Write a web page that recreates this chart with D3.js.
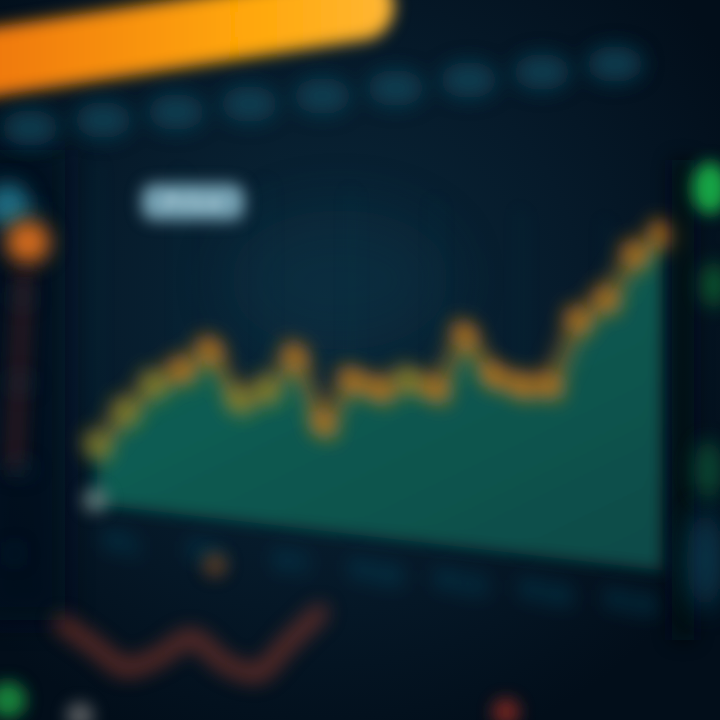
<!DOCTYPE html>
<html><head><meta charset="utf-8">
<script src="https://cdn.jsdelivr.net/npm/d3@7/dist/d3.min.js"></script>
<style>html,body{margin:0;padding:0;background:#051624;}svg{display:block;}</style>
</head><body>
<svg id="c" width="720" height="720"></svg>
<script>
// ---- data ----
const periods = d3.range(21).map(i => "P" + (i + 1));
const mainValues = [17, 28, 37, 42, 49, 35, 39, 50, 31, 45, 43, 47, 45, 62, 51, 49, 50, 70, 77, 91, 98];
const xTickLabels = ["P1", "P4", "P7", "P10", "P13", "P16", "P19"];
const topSeries = [62, 90];               // out-of-focus foreground line (orange band)
const topDots = [1, 2, 3, 4, 5, 6, 7, 8, 9];
const lowSeries = [44, 28, 12, 20, 34, 16, 8, 30, 52];  // red line lower left
const yTicks = [0, 25, 50, 75, 100];

const svg = d3.select("#c");
const W = 720, H = 720;
const defs = svg.append("defs");
const blur = (id, s) => defs.append("filter").attr("id", id).attr("filterUnits", "userSpaceOnUse")
  .attr("x", -150).attr("y", -150).attr("width", 1020).attr("height", 1020)
  .append("feGaussianBlur").attr("stdDeviation", s);
blur("b5", 5); blur("b8", 8); blur("b10", 10); blur("b14", 14); blur("b28", 28);

const bg = defs.append("radialGradient").attr("id", "bg").attr("cx", "45%").attr("cy", "42%").attr("r", "65%");
bg.append("stop").attr("offset", "0%").attr("stop-color", "#0a283a");
bg.append("stop").attr("offset", "55%").attr("stop-color", "#061a2a");
bg.append("stop").attr("offset", "100%").attr("stop-color", "#020e1a");
svg.append("rect").attr("width", W).attr("height", H).attr("fill", "url(#bg)");

const ag = defs.append("linearGradient").attr("id", "ag").attr("x1", "0").attr("y1", "0").attr("x2", "1").attr("y2", "1");
ag.append("stop").attr("offset", "0%").attr("stop-color", "#176448");
ag.append("stop").attr("offset", "45%").attr("stop-color", "#0a5c52");
ag.append("stop").attr("offset", "100%").attr("stop-color", "#094a48");

const og = defs.append("linearGradient").attr("id", "og").attr("gradientUnits", "userSpaceOnUse")
  .attr("x1", 0).attr("y1", 0).attr("x2", 400).attr("y2", 0);
og.append("stop").attr("offset", "0%").attr("stop-color", "#f07a10");
og.append("stop").attr("offset", "60%").attr("stop-color", "#ffa606");
og.append("stop").attr("offset", "100%").attr("stop-color", "#ffb838");

// faint panel glow
svg.append("ellipse").attr("cx", 340).attr("cy", 280).attr("rx", 110).attr("ry", 70)
  .attr("fill", "#0c3446").attr("opacity", 0.4).attr("filter", "url(#b28)");

// left dark panel
svg.append("rect").attr("x", -20).attr("y", 150).attr("width", 85).attr("height", 470)
  .attr("fill", "#03101c").attr("opacity", 0.7).attr("filter", "url(#b14)");

// ---- main chart (photographed at a slight angle) ----
const chart = svg.append("g").attr("transform", "skewY(6.65)");
const x = d3.scaleLinear().domain([0, periods.length - 1]).range([97, 663]);
const y = d3.scaleLinear().domain([0, 100]).range([493, 150]);

// gridlines
chart.append("g").attr("filter", "url(#b8)").attr("opacity", 0.25)
  .selectAll("line").data(d3.range(0, periods.length, 3)).join("line")
  .attr("x1", d => x(d)).attr("x2", d => x(d)).attr("y1", y(100)).attr("y2", y(0))
  .attr("stroke", "#0f3a4c").attr("stroke-width", 5);

const area = d3.area().x((d, i) => x(i)).y0(y(0)).y1(d => y(d));
chart.append("path").datum(mainValues).attr("d", area).attr("fill", "url(#ag)").attr("filter", "url(#b8)");

const line = d3.line().x((d, i) => x(i)).y(d => y(d));
chart.append("path").datum(mainValues).attr("d", line).attr("fill", "none")
  .attr("stroke", "#c07c20").attr("stroke-width", 16).attr("stroke-linejoin", "round").attr("stroke-linecap", "round")
  .attr("opacity", 0.55).attr("filter", "url(#b10)");
chart.append("g").attr("filter", "url(#b10)").selectAll("circle").data(mainValues).join("circle")
  .attr("cx", (d, i) => x(i)).attr("cy", d => y(d)).attr("r", 13)
  .attr("fill", (d, i) => (i < 3 || i === 5 || i === 6 || i === 11) ? "#988e28" : "#d87c1e").attr("opacity", 0.75);

// x axis tick labels (out of focus)
chart.append("g").attr("filter", "url(#b10)").selectAll("text").data(xTickLabels).join("text")
  .attr("x", (d, i) => x(i * 3) + 25).attr("y", y(0) + 45)
  .attr("text-anchor", "middle").attr("font-family", "DejaVu Sans").attr("font-size", 24).attr("font-weight", "bold")
  .attr("fill", "#135670").attr("opacity", 0.75).text(d => d);

// right panel edge shadow
svg.append("rect").attr("x", 672).attr("y", 160).attr("width", 22).attr("height", 480)
  .attr("fill", "#030d17").attr("opacity", 0.8).attr("filter", "url(#b10)");

// grey label blob lower left
svg.append("circle").attr("cx", 95).attr("cy", 500).attr("r", 13).attr("fill", "#8a9c98").attr("opacity", 0.6).attr("filter", "url(#b8)");

// y axis labels left (out of focus)
svg.append("g").attr("filter", "url(#b10)").selectAll("text").data(yTicks).join("text")
  .attr("x", 8).attr("y", d => 560 - d * 3.4).attr("font-family", "DejaVu Sans").attr("font-size", 18).attr("font-weight", "bold")
  .attr("fill", "#114a60").attr("opacity", 0.7).text(d => d);

// chart title label
svg.append("rect").attr("x", 142).attr("y", 184).attr("width", 102).attr("height", 36).attr("rx", 12)
  .attr("fill", "#78a4b6").attr("filter", "url(#b8)");
svg.append("text").attr("x", 193).attr("y", 209).attr("text-anchor", "middle").attr("font-family", "DejaVu Sans")
  .attr("font-size", 20).attr("font-weight", "bold").attr("fill", "#96bac8").attr("filter", "url(#b5)").text("Price");

// left orange blob and red vertical line
svg.append("circle").attr("cx", 8).attr("cy", 205).attr("r", 22).attr("fill", "#1d6a80").attr("filter", "url(#b10)");
svg.append("circle").attr("cx", 28).attr("cy", 242).attr("r", 22).attr("fill", "#d06a1c").attr("filter", "url(#b10)");
svg.append("line").attr("x1", 24).attr("x2", 14).attr("y1", 270).attr("y2", 470)
  .attr("stroke", "#5c2820").attr("stroke-width", 12).attr("opacity", 0.7).attr("filter", "url(#b10)");

// right blobs
svg.append("ellipse").attr("cx", 710).attr("cy", 188).attr("rx", 18).attr("ry", 26).attr("fill", "#18a444").attr("filter", "url(#b8)");
svg.append("ellipse").attr("cx", 714).attr("cy", 285).attr("rx", 12).attr("ry", 22).attr("fill", "#128a3a").attr("opacity", 0.6).attr("filter", "url(#b10)");
svg.append("ellipse").attr("cx", 708).attr("cy", 470).attr("rx", 14).attr("ry", 30).attr("fill", "#0f6a40").attr("opacity", 0.6).attr("filter", "url(#b10)");
svg.append("ellipse").attr("cx", 705).attr("cy", 560).attr("rx", 18).attr("ry", 50).attr("fill", "#0c4a62").attr("opacity", 0.7).attr("filter", "url(#b14)");

// top foreground: orange band and teal dots (heavily out of focus)
const xt = d3.scaleLinear().domain([0, 1]).range([-40, 360]);
const yt = d3.scaleLinear().domain([0, 100]).range([200, -15]);
svg.append("path").datum(topSeries).attr("d", d3.line().x((d, i) => xt(i)).y(d => yt(d)))
  .attr("stroke", "url(#og)").attr("stroke-width", 68).attr("stroke-linecap", "round").attr("fill", "none")
  .attr("filter", "url(#b8)");
const xd = d3.scaleLinear().domain([1, 9]).range([30, 615]);
svg.append("g").attr("filter", "url(#b10)").selectAll("ellipse").data(topDots).join("ellipse")
  .attr("cx", d => xd(d)).attr("cy", d => 128 - (d - 1) * 8).attr("rx", 28).attr("ry", 18)
  .attr("fill", "#0f4458").attr("opacity", 0.8);

// lower-left red line
const xl = d3.scaleLinear().domain([0, lowSeries.length - 1]).range([62, 320]);
const yl = d3.scaleLinear().domain([0, 50]).range([685, 615]);
svg.append("path").datum(lowSeries).attr("d", d3.line().x((d, i) => xl(i)).y(d => yl(d)).curve(d3.curveMonotoneX))
  .attr("fill", "none").attr("stroke", "#a8402c").attr("stroke-width", 16).attr("opacity", 0.6)
  .attr("stroke-linecap", "round").attr("filter", "url(#b10)");

// bottom blobs
svg.append("circle").attr("cx", 8).attr("cy", 700).attr("r", 18).attr("fill", "#17803a").attr("filter", "url(#b8)");
svg.append("circle").attr("cx", 80).attr("cy", 716).attr("r", 14).attr("fill", "#8a8a88").attr("opacity", 0.6).attr("filter", "url(#b8)");
svg.append("circle").attr("cx", 506).attr("cy", 712).attr("r", 14).attr("fill", "#8a2a20").attr("opacity", 0.8).attr("filter", "url(#b8)");
svg.append("circle").attr("cx", 215).attr("cy", 565).attr("r", 13).attr("fill", "#6a4020").attr("opacity", 0.7).attr("filter", "url(#b8)");
</script>
</body></html>
